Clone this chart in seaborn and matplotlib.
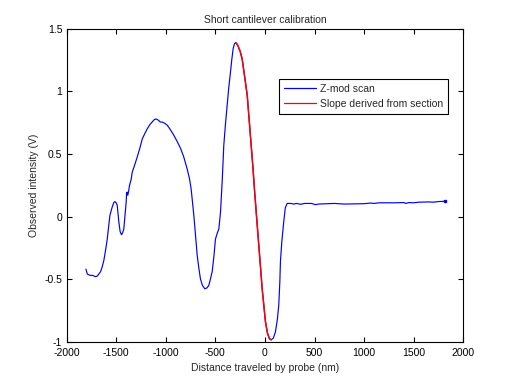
import matplotlib
matplotlib.use("Agg")
import matplotlib.pyplot as plt
import seaborn as sns
import numpy as np
import pandas as pd

# Traced data: distance (nm) and observed intensity (V)
distance_nm = [
    -1805, -1790, -1760, -1735, -1711, -1690, -1657, -1640, -1624, -1605,
    -1590, -1563, -1540, -1525, -1513, -1500, -1489, -1473, -1460, -1446,
    -1435, -1423, -1410, -1399, -1395, -1389, -1383, -1375, -1365, -1348,
    -1338, -1310, -1288, -1260, -1237, -1210, -1187, -1160, -1137, -1115,
    -1097, -1075, -1055, -1036, -1010, -985, -950, -919, -885, -851,
    -820, -784, -760, -744, -717, -700, -683, -665, -650, -630,
    -606, -585, -566, -550, -532, -515, -499, -480, -465, -448,
    -430, -415, -398, -381, -365, -348, -335, -321, -308, -294,
    -275, -250, -230, -205, -179, -160, -139, -120, -106, -85,
    -62, -45, -28, -10, 5, 25, 45, 62, 85, 106,
    125, 139, 150, 156, 170, 189, 205, 224, 260, 290,
    320, 360, 400, 470, 509, 540, 700, 800, 1000, 1063,
    1100, 1150, 1300, 1399, 1420, 1450, 1500, 1550, 1650, 1700,
    1750, 1812,
]
intensity_v = [
    -0.42, -0.46, -0.47, -0.47, -0.48, -0.475, -0.44, -0.40, -0.35, -0.26,
    -0.18, 0.01, 0.076, 0.11, 0.12, 0.11, 0.09, -0.044, -0.12, -0.145,
    -0.13, -0.10, 0.02, 0.116, 0.19, 0.196, 0.17, 0.20, 0.25, 0.30,
    0.355, 0.42, 0.475, 0.55, 0.62, 0.665, 0.70, 0.735, 0.755, 0.775,
    0.78, 0.77, 0.755, 0.755, 0.745, 0.73, 0.69, 0.65, 0.60, 0.545,
    0.48, 0.38, 0.30, 0.22, 0.01, -0.15, -0.31, -0.42, -0.50, -0.55,
    -0.577, -0.57, -0.55, -0.50, -0.44, -0.32, -0.18, -0.13, -0.10, 0.036,
    0.30, 0.57, 0.74, 0.89, 1.03, 1.15, 1.25, 1.34, 1.38, 1.39,
    1.37, 1.32, 1.26, 1.12, 0.97, 0.78, 0.57, 0.38, 0.22, 0.00,
    -0.23, -0.40, -0.577, -0.72, -0.84, -0.93, -0.975, -0.985, -0.97, -0.92,
    -0.82, -0.71, -0.52, -0.36, -0.20, -0.044, 0.07, 0.105, 0.105, 0.10,
    0.105, 0.098, 0.105, 0.105, 0.095, 0.10, 0.105, 0.10, 0.103, 0.108,
    0.105, 0.11, 0.11, 0.112, 0.105, 0.112, 0.11, 0.115, 0.117, 0.115,
    0.12, 0.122,
]
section_start_nm = -294
section_end_nm = 62

x_ticks = [-2000, -1500, -1000, -500, 0, 500, 1000, 1500, 2000]
y_ticks = [-1, -0.5, 0, 0.5, 1, 1.5]
y_tick_labels = ["-1", "-0.5", "0", "0.5", "1", "1.5"]

df = pd.DataFrame({"x": distance_nm, "y": intensity_v})
sec = df[(df["x"] >= section_start_nm) & (df["x"] <= section_end_nm)]

sns.set_theme(style="white")
plt.rcParams["font.family"] = ["Liberation Sans", "DejaVu Sans"]
plt.rcParams["font.size"] = 7.5
plt.rcParams["axes.unicode_minus"] = False

fig = plt.figure(figsize=(5.12, 3.84), dpi=100)
fig.patch.set_facecolor("white")
ax = fig.add_axes([0.13, 0.11, 0.775, 0.815])

sns.lineplot(data=df, x="x", y="y", ax=ax, color="#0000ff", lw=0.85,
             sort=False, estimator=None, label="Z-mod scan")
sns.lineplot(data=sec, x="x", y="y", ax=ax, color="#ff0000", lw=1.1,
             sort=False, estimator=None, label="Slope derived from section")
ax.plot(df["x"].iloc[-1:], df["y"].iloc[-1:], marker="s", ms=1.6,
        color="#0000ff", lw=0)

ax.set_xlim(-2000, 2000)
ax.set_ylim(-1, 1.5)
ax.set_xticks(x_ticks)
ax.set_yticks(y_ticks)
ax.set_yticklabels(y_tick_labels)

for s in ax.spines.values():
    s.set_visible(True)
    s.set_color("black")
    s.set_linewidth(0.8)
ax.tick_params(direction="in", length=3.6, width=0.8, colors="black",
               top=True, right=True, bottom=True, left=True,
               labelsize=7.5, pad=3)
ax.tick_params(axis="x", pad=4.5)

ax.set_title("Short cantilever calibration", fontsize=7.5, pad=4)
ax.set_xlabel("Distance traveled by probe (nm)", fontsize=7.5, labelpad=3.5)
ax.set_ylabel("Observed intensity (V)", fontsize=7.5, labelpad=4)

leg = ax.legend(loc="upper left", bbox_to_anchor=(0.535, 0.84),
                borderaxespad=0, fancybox=False, framealpha=1,
                edgecolor="black", fontsize=7.5, handlelength=3.1,
                handletextpad=0.35, labelspacing=0.45, borderpad=0.5)
leg.get_frame().set_linewidth(0.8)
for line in leg.get_lines():
    line.set_linewidth(0.9)

fig.savefig("out.png", dpi=100, facecolor="white")
